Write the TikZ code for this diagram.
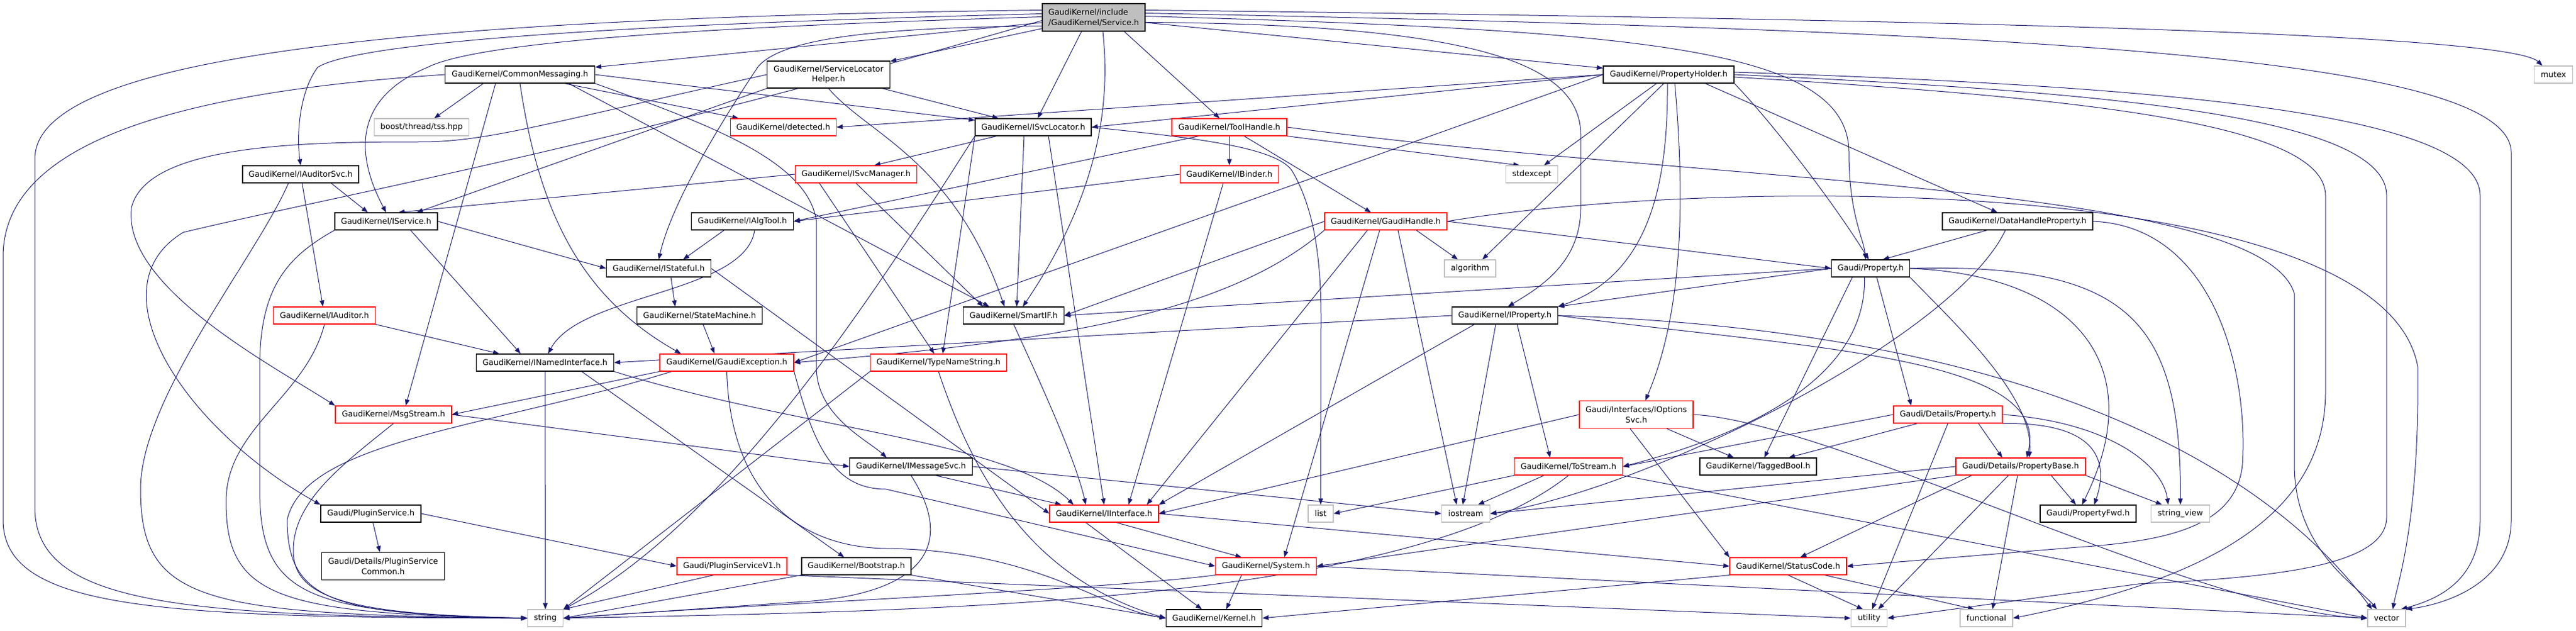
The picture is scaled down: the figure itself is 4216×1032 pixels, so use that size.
\documentclass[tikz,border=0pt]{standalone}
\usepackage{fontspec}
\setmainfont{DejaVu Sans}
\usetikzlibrary{arrows.meta,backgrounds}
\definecolor{edgecol}{HTML}{191970}
\definecolor{sysgray}{HTML}{BFBFBF}
\definecolor{truncred}{HTML}{FF0000}
\newcommand{\dxfont}{\fontsize{13}{16.7}\selectfont}
\begin{document}
\begin{tikzpicture}[x=1pt,y=-1pt,
  box/.style={draw, fill=white, line width=1.2pt, inner sep=2pt, minimum height=28pt, font=\dxfont, text=black},
  blk/.style={box, draw=black},
  trn/.style={box, draw=truncred},
  sysh/.style={box, draw=sysgray},
  dep/.style={draw=edgecol, line width=1pt, -{Triangle[length=10pt,width=7.5pt]}},
]
\useasboundingbox (0,0) rectangle (4216,1032);
% ---------------- nodes ----------------
\node[box, draw=black, fill=sysgray, minimum width=168pt, minimum height=45pt, align=left] (R) at (1790,28.5) {GaudiKernel/include\\/GaudiKernel/Service.h};
\node[blk, minimum width=245pt] (CM) at (851,122) {GaudiKernel/CommonMessaging.h};
\node[blk, minimum width=201pt, minimum height=44pt, align=center] (SLH) at (1356,122) {GaudiKernel/ServiceLocator\\Helper.h};
\node[blk, minimum width=214pt] (PH) at (2731,122) {GaudiKernel/PropertyHolder.h};
\node[sysh, minimum width=63pt] (mutex) at (4179,122) {mutex};
\node[sysh, minimum width=155pt] (tss) at (690,208) {boost/thread/tss.hpp};
\node[trn, minimum width=173pt] (det) at (1282,208) {GaudiKernel/detected.h};
\node[blk, minimum width=190pt] (ISL) at (1691,208) {GaudiKernel/ISvcLocator.h};
\node[trn, minimum width=188pt] (TH) at (2012,208) {GaudiKernel/ToolHandle.h};
\node[blk, minimum width=190pt] (IAS) at (492,285) {GaudiKernel/IAuditorSvc.h};
\node[trn, minimum width=199pt] (ISM) at (1401,285) {GaudiKernel/ISvcManager.h};
\node[trn, minimum width=161pt] (IB) at (2012,285) {GaudiKernel/IBinder.h};
\node[sysh, minimum width=85pt] (stdexc) at (2507,285) {stdexcept};
\node[blk, minimum width=168pt] (IS) at (632,362) {GaudiKernel/IService.h};
\node[blk, minimum width=167pt] (IAT) at (1215,362) {GaudiKernel/IAlgTool.h};
\node[trn, minimum width=200pt] (GH) at (2268,362) {GaudiKernel/GaudiHandle.h};
\node[blk, minimum width=246pt] (DHP) at (3302,362) {GaudiKernel/DataHandleProperty.h};
\node[blk, minimum width=171pt] (IST) at (1078,439) {GaudiKernel/IStateful.h};
\node[sysh, minimum width=84pt] (alg) at (2406,439) {algorithm};
\node[blk, minimum width=128pt] (GP) at (3061.5,439) {Gaudi/Property.h};
\node[trn, minimum width=167pt] (IAud) at (531,516) {GaudiKernel/IAuditor.h};
\node[blk, minimum width=205pt] (SM) at (1145,516) {GaudiKernel/StateMachine.h};
\node[blk, minimum width=165pt] (SIF) at (1659,516) {GaudiKernel/SmartIF.h};
\node[blk, minimum width=173pt] (IP) at (2463,516) {GaudiKernel/IProperty.h};
\node[blk, minimum width=225pt] (INI) at (892,593) {GaudiKernel/INamedInterface.h};
\node[trn, minimum width=219pt] (GE) at (1189.5,593) {GaudiKernel/GaudiException.h};
\node[trn, minimum width=223pt] (TNS) at (1536,593) {GaudiKernel/TypeNameString.h};
\node[trn, minimum width=190pt] (MS) at (644,678) {GaudiKernel/MsgStream.h};
\node[trn, minimum width=186pt, minimum height=45pt, align=center] (IOS) at (2678,678) {Gaudi/Interfaces/IOptions\\Svc.h};
\node[trn, minimum width=178pt] (DP) at (3188,678) {Gaudi/Details/Property.h};
\node[blk, minimum width=201pt] (IMS) at (1491,763) {GaudiKernel/IMessageSvc.h};
\node[trn, minimum width=177pt] (ToS) at (2567,763) {GaudiKernel/ToStream.h};
\node[blk, minimum width=191pt] (TB) at (2877.5,763) {GaudiKernel/TaggedBool.h};
\node[trn, minimum width=212pt] (PB) at (3307,763) {Gaudi/Details/PropertyBase.h};
\node[blk, minimum width=164pt] (PS) at (607,840) {Gaudi/PluginService.h};
\node[trn, minimum width=178pt] (II) at (1807,840) {GaudiKernel/IInterface.h};
\node[sysh, minimum width=41pt] (list) at (2161.5,840) {list};
\node[sysh, minimum width=79pt] (ios) at (2399,840) {iostream};
\node[blk, minimum width=157pt] (PFwd) at (3417.5,840) {Gaudi/PropertyFwd.h};
\node[sysh, minimum width=96pt] (sv) at (3568.5,840) {string\_view};
\node[blk, minimum width=201pt, minimum height=45pt, align=center] (PSC) at (627,926) {Gaudi/Details/PluginService\\Common.h};
\node[trn, minimum width=180pt] (PSV1) at (1198,926) {Gaudi/PluginServiceV1.h};
\node[blk, minimum width=179pt] (Boot) at (1401.5,926) {GaudiKernel/Bootstrap.h};
\node[trn, minimum width=165pt] (Sys) at (2072,926) {GaudiKernel/System.h};
\node[trn, minimum width=191pt] (SC) at (2926.5,926) {GaudiKernel/StatusCode.h};
\node[sysh, minimum width=58pt] (str) at (892.5,1011) {string};
\node[blk, minimum width=157pt] (Kern) at (1987,1011) {GaudiKernel/Kernel.h};
\node[sysh, minimum width=59pt] (util) at (3059,1011) {utility};
\node[sysh, minimum width=86pt] (func) at (3251,1011) {functional};
\node[sysh, minimum width=62pt] (vec) at (3906,1011) {vector};
% ---------------- edges ----------------
\begin{scope}[on background layer]
% Service.h
\draw[dep] (R) -- (CM);
\draw[dep] (R) -- (SLH);
\draw[dep] ([xshift=-20pt]R.south) -- (ISL);
\draw[dep] ([xshift=50pt]R.south) -- (TH);
\draw[dep] (R) -- (PH);
\draw[dep] ([xshift=15pt]R.south) .. controls (1815,150) and (1810,300) .. ([xshift=15pt]SIF.north);
\draw[dep] ([yshift=12pt]R.east) .. controls (3000,30) and (4100,50) .. ([xshift=-18pt]mutex.north);
\draw[dep] ([yshift=6pt]R.west) .. controls (1200,35) and (600,60) .. (520,110) .. controls (490,150) and (485,220) .. (IAS.north);
\draw[dep] ([yshift=1pt]R.west) .. controls (1300,40) and (800,60) .. (700,110) .. controls (580,160) and (580,250) .. (IS.north);
\draw[dep] ([yshift=12pt]R.west) .. controls (600,30) and (57,100) .. (57,260) -- (57,830) .. controls (57,990) and (300,1008) .. (str.west);
\draw[dep] ([yshift=-5pt]R.west) .. controls (1000,240) and (550,320) .. (300,380) .. controls (150,470) and (300,700) .. (PS.north west);
\draw[dep] ([yshift=-14pt]R.west) .. controls (1450,45) and (1280,60) .. (1240,110) .. controls (1180,200) and (1100,330) .. (IST.north);
\draw[dep] ([yshift=-8pt]R.east) .. controls (2400,40) and (2587,100) .. (2587,220) -- (2587,340) .. controls (2587,430) and (2520,470) .. ([xshift=5pt]IP.north);
\draw[dep] ([yshift=2pt]R.east) .. controls (2700,50) and (3026,80) .. (3026,250) .. controls (3026,350) and (3050,390) .. ([xshift=-8pt]GP.north);
\draw[dep] ([yshift=7pt]R.east) .. controls (3300,50) and (4110,90) .. (4110,250) -- (4110,850) .. controls (4110,960) and (3990,990) .. (vec.north east);
% CommonMessaging.h
\draw[dep] ([xshift=-60pt]CM.south) -- (tss);
\draw[dep] (CM) -- (det);
\draw[dep] (CM.west) .. controls (300,150) and (5,230) .. (5,420) -- (5,850) .. controls (5,995) and (250,1010) .. (str.west);
\draw[dep] ([xshift=-40pt]CM.south) -- ([xshift=20pt]MS.north);
\draw[dep] (CM.south) .. controls (880,330) and (940,480) .. ([xshift=-75pt]GE.north);
\draw[dep] (CM.south east) .. controls (1150,200) and (1320,260) .. (1336,360) -- (1336,600) .. controls (1336,680) and (1420,720) .. ([xshift=-40pt]IMS.north);
\draw[dep] (CM.east) -- (ISL);
\draw[dep] ([xshift=80pt]CM.south) -- ([xshift=-40pt]SIF.north);
% ServiceLocatorHelper.h
\draw[dep] (SLH) -- (ISL);
\draw[dep] (SLH.south west) -- ([xshift=50pt]IS.north);
\draw[dep] (SLH.south) .. controls (1420,220) and (1560,260) .. ([xshift=-15pt]SIF.north);
\draw[dep] (SLH.west) .. controls (900,200) and (800,232) .. (690,232) .. controls (500,232) and (240,235) .. (215,340) .. controls (200,470) and (450,600) .. (MS.north west);
% PropertyHolder.h
\draw[dep] (PH.west) -- (det.east);
\draw[dep] (PH.west) -- (ISL.east);
\draw[dep] (PH.west) -- (GE.east);
\draw[dep] ([xshift=-20pt]PH.south) -- ([xshift=20pt]stdexc.north);
\draw[dep] ([xshift=-8pt]PH.south) -- ([xshift=20pt]alg.north);
\draw[dep] ([xshift=-2pt]PH.south) .. controls (2730,300) and (2700,450) .. (IP.north east);
\draw[dep] ([xshift=10pt]PH.south) .. controls (2760,350) and (2750,520) .. ([xshift=15pt]IOS.north);
\draw[dep] (PH.south east) .. controls (2900,200) and (3000,330) .. ([xshift=-3pt]GP.north);
\draw[dep] ([xshift=60pt]PH.south) -- (DHP);
\draw[dep] ([yshift=4pt]PH.east) .. controls (3500,140) and (4059,180) .. (4059,320) -- (4059,850) .. controls (4059,950) and (3990,980) .. ([xshift=-8pt]vec.north east);
\draw[dep] (PH.east) .. controls (3450,150) and (3906,190) .. (3906,320) -- (3906,846) .. controls (3906,930) and (3700,945) .. (3500,955) -- (util.east);
\draw[dep] ([yshift=-4pt]PH.east) .. controls (3400,160) and (3806,200) .. (3806,320) -- (3806,640) .. controls (3806,850) and (3600,950) .. (func.east);
% ToolHandle.h
\draw[dep] (TH) -- (GH);
\draw[dep] (TH) -- (IB);
\draw[dep] ([xshift=-50pt]TH.south) -- (IAT.east);
\draw[dep] (TH.south east) -- ([xshift=-20pt]stdexc.north);
\draw[dep] (TH.east) .. controls (2800,300) and (3700,300) .. (3755,480) -- (3755,760) .. controls (3755,900) and (3860,960) .. ([xshift=-16pt]vec.north);
% IBinder.h
\draw[dep] (IB.west) -- (IAT.east);
\draw[dep] ([xshift=-10pt]IB.south) -- ([xshift=40pt]II.north);
% GaudiHandle.h
\draw[dep] (GH.south west) .. controls (2000,520) and (1700,560) .. (GE.east);
\draw[dep] ([xshift=-30pt]GH.south) -- ([xshift=70pt]II.north);
\draw[dep] ([xshift=-10pt]GH.south) -- ([xshift=30pt]Sys.north);
\draw[dep] ([xshift=20pt]GH.south) -- ([xshift=-15pt]ios.north);
\draw[dep] ([xshift=50pt]GH.south) -- ([xshift=-20pt]alg.north);
\draw[dep] (GH.east) -- (GP.west);
\draw[dep] (GH.east) .. controls (2800,290) and (3900,280) .. (3957,600) .. controls (3960,850) and (3925,950) .. ([xshift=10pt]vec.north);
\draw[dep] (GH.west) -- (SIF.east);
% IAuditorSvc.h
\draw[dep] (IAS) -- (IAud);
\draw[dep] ([xshift=50pt]IAS.south) -- ([xshift=-30pt]IS.north);
\draw[dep] ([xshift=-20pt]IAS.south) .. controls (420,420) and (230,650) .. (230,800) .. controls (230,985) and (330,1005) .. (str.west);
% IService.h
\draw[dep] ([xshift=40pt]IS.south) -- ([xshift=-40pt]INI.north);
\draw[dep] (IS.east) -- (IST.west);
\draw[dep] (IS.south west) .. controls (470,420) and (425,470) .. (425,600) -- (425,800) .. controls (425,975) and (500,1002) .. (str.west);
% ISvcManager.h
\draw[dep] (ISM.west) -- ([xshift=20pt]IS.north);
\draw[dep] (ISM.south) -- ([xshift=-50pt]SIF.north);
\draw[dep] ([xshift=-60pt]ISM.south) -- ([xshift=-7pt]TNS.north);
% ISvcLocator.h
\draw[dep] ([xshift=-60pt]ISL.south) -- ([xshift=30pt]ISM.north);
\draw[dep] ([xshift=-15pt]ISL.south) -- ([xshift=5pt]SIF.north);
\draw[dep] (ISL.south west) -- ([xshift=7pt]TNS.north);
\draw[dep] ([xshift=25pt]ISL.south) -- (II.north);
\draw[dep] (ISL.east) .. controls (1950,225) and (2090,240) .. (2115,280) .. controls (2150,340) and (2162,420) .. (2162,520) -- (list.north);
\draw[dep] (ISL.south west) .. controls (1450,450) and (1200,850) .. (str.north east);
% SmartIF.h
\draw[dep] (SIF.south) .. controls (1700,620) and (1760,750) .. ([xshift=-30pt]II.north);
% IAlgTool.h
\draw[dep] ([xshift=-30pt]IAT.south) -- ([xshift=40pt]IST.north);
\draw[dep] ([xshift=20pt]IAT.south) .. controls (1220,480) and (950,480) .. ([xshift=5pt]INI.north);
% IStateful.h / StateMachine.h
\draw[dep] ([xshift=20pt]IST.south) -- ([xshift=-40pt]SM.north);
\draw[dep] (IST.east) -- (II.west);
\draw[dep] (SM) -- ([xshift=-20pt]GE.north);
% GaudiException.h
\draw[dep] (GE.south west) -- (MS.east);
\draw[dep] ([xshift=20pt]GE.south west) .. controls (800,700) and (500,720) .. (470,850) .. controls (470,985) and (550,1005) .. (str.west);
\draw[dep] (GE.south) .. controls (1195,800) and (1300,895) .. (1450,897) .. controls (1700,900) and (1800,995) .. (Kern.west);
\draw[dep] (GE.south east) .. controls (1330,720) and (1360,800) .. (1450,800) -- (Sys.west);
% INamedInterface.h
\draw[dep] (INI.south) -- (str.north);
\draw[dep] (INI.south east) .. controls (1300,700) and (1650,720) .. ([xshift=-50pt]II.north);
\draw[dep] ([xshift=60pt]INI.south) -- ([xshift=-20pt]Boot.north);
% IInterface.h
\draw[dep] ([xshift=-30pt]II.south) -- ([xshift=-20pt]Kern.north);
\draw[dep] ([xshift=20pt]II.south) -- ([xshift=-40pt]Sys.north);
\draw[dep] (II.east) -- (SC.west);
% System.h
\draw[dep] ([xshift=-40pt]Sys.south) -- ([xshift=20pt]Kern.north);
\draw[dep] (Sys.south west) .. controls (1800,965) and (1200,990) .. (str.east);
\draw[dep] (Sys.east) -- (vec.west);
% StatusCode.h
\draw[dep] (SC.south) -- ([xshift=-10pt]util.north);
\draw[dep] ([xshift=60pt]SC.south) -- ([xshift=-20pt]func.north);
\draw[dep] (SC.south west) -- (Kern.east);
% Bootstrap.h / PluginServiceV1.h / PluginService.h
\draw[dep] (Boot.south west) -- (str.east);
\draw[dep] (Boot.south east) -- (Kern.west);
\draw[dep] ([xshift=-30pt]PSV1.south) -- (str.north east);
\draw[dep] (PSV1.south east) -- (util.west);
\draw[dep] (PS) -- (PSC);
\draw[dep] (PS.east) -- (PSV1.west);
% MsgStream.h / IMessageSvc.h
\draw[dep] (MS.east) -- (IMS.west);
\draw[dep] (MS.south) .. controls (560,760) and (480,820) .. (480,900) .. controls (480,975) and (560,1005) .. (str.west);
\draw[dep] ([xshift=40pt]IMS.south) -- ([xshift=-70pt]II.north);
\draw[dep] (IMS.south) .. controls (1570,900) and (1500,975) .. (1300,985) -- (str.east);
\draw[dep] (IMS.east) -- (ios.west);
% TypeNameString.h
\draw[dep] (TNS.south west) -- (str.north east);
\draw[dep] (TNS.south) .. controls (1600,800) and (1700,950) .. (Kern.west);
% IAuditor.h
\draw[dep] (IAud.south east) -- ([xshift=-75pt]INI.north);
\draw[dep] (IAud.south) .. controls (500,650) and (370,700) .. (370,820) .. controls (370,975) and (450,1004) .. (str.west);
% IProperty.h
\draw[dep] (IP.west) -- (INI.east);
\draw[dep] ([xshift=-50pt]IP.south) -- (II.north east);
\draw[dep] ([xshift=20pt]IP.south) -- ([xshift=-30pt]ToS.north);
\draw[dep] ([xshift=-15pt]IP.south) -- ([xshift=-5pt]ios.north);
\draw[dep] (IP.east) .. controls (3300,540) and (3700,750) .. ([xshift=-24pt]vec.north);
\draw[dep] (IP.east) .. controls (2950,570) and (3360,580) .. ([xshift=10pt]PB.north);
% Gaudi/Property.h
\draw[dep] ([xshift=10pt]GP.south) -- ([xshift=-60pt]DP.north);
\draw[dep] (GP.south east) .. controls (3200,530) and (3330,650) .. ([xshift=14pt]PB.north);
\draw[dep] (GP.east) .. controls (3400,450) and (3520,600) .. ([xshift=-10pt]PFwd.north);
\draw[dep] ([xshift=-30pt]GP.south) -- ([xshift=10pt]TB.north);
\draw[dep] ([xshift=-10pt]GP.south) .. controls (3055,600) and (2900,700) .. (ToS.east);
\draw[dep] (GP.east) .. controls (3480,430) and (3570,520) .. (sv.north);
\draw[dep] (GP.west) -- (SIF.east);
\draw[dep] (GP.west) -- (IP.north east);
% Gaudi/Details/Property.h
\draw[dep] (DP.west) -- (ToS.east);
\draw[dep] ([xshift=-50pt]DP.south) -- ([xshift=50pt]TB.north);
\draw[dep] (DP.south) -- ([xshift=5pt]util.north);
\draw[dep] ([xshift=50pt]DP.south) -- ([xshift=-30pt]PB.north);
\draw[dep] (DP.south east) .. controls (3440,690) and (3450,760) .. ([xshift=10pt]PFwd.north);
\draw[dep] (DP.east) .. controls (3450,690) and (3540,760) .. ([xshift=-20pt]sv.north);
% Gaudi/Details/PropertyBase.h
\draw[dep] ([xshift=50pt]PB.south) -- ([xshift=-20pt]PFwd.north);
\draw[dep] (PB.south east) -- ([xshift=-30pt]sv.north);
\draw[dep] ([xshift=-80pt]PB.south) -- ([xshift=20pt]SC.north);
\draw[dep] ([xshift=-20pt]PB.south) -- ([xshift=15pt]util.north);
\draw[dep] ([xshift=-5pt]PB.south) -- ([xshift=10pt]func.north);
\draw[dep] (PB.west) -- (ios.east);
\draw[dep] (PB.south west) -- (Sys.east);
% IOptionsSvc.h
\draw[dep] ([xshift=50pt]IOS.south) -- ([xshift=-40pt]TB.north);
\draw[dep] (IOS.west) -- (II.east);
\draw[dep] ([xshift=-10pt]IOS.south) -- (SC.north west);
\draw[dep] (IOS.east) .. controls (3000,690) and (3600,1000) .. (vec.west);
% ToStream.h
\draw[dep] (ToS.south west) -- (list.east);
\draw[dep] ([xshift=-40pt]ToS.south) -- ([xshift=20pt]ios.north);
\draw[dep] (ToS.south) .. controls (2300,990) and (1500,1000) .. (str.east);
\draw[dep] (ToS.south east) -- (vec.west);
% DataHandleProperty.h
\draw[dep] ([xshift=-50pt]DHP.south) -- ([xshift=20pt]GP.north);
\draw[dep] ([xshift=-20pt]DHP.south) .. controls (3200,550) and (2700,800) .. (ios.east);
\draw[dep] (DHP.east) .. controls (3620,370) and (3680,600) .. (3670,760) .. controls (3660,860) and (3550,885) .. (3400,895) -- (SC.east);
\end{scope}
\end{tikzpicture}
\end{document}
